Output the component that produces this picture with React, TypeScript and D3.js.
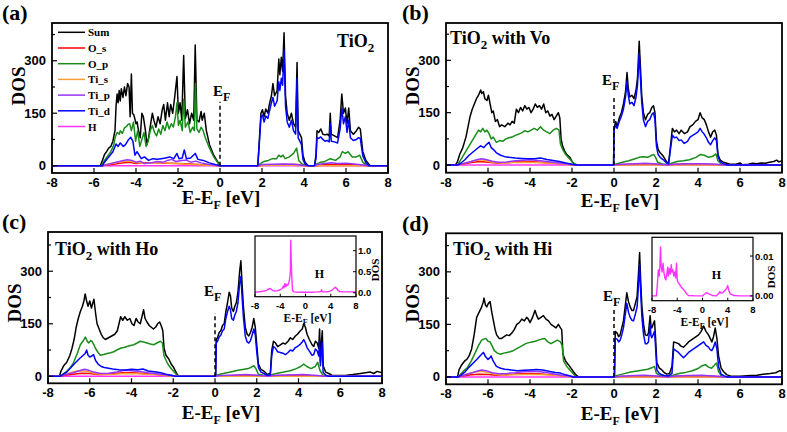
import React from "react";
import * as d3 from "d3";

type Pt = [number, number];

const xTicks = [-8, -6, -4, -2, 0, 2, 4, 6, 8];
const yTicks = [0, 150, 300];
const yMinorTicks = [75, 225, 375];
const insetXTicks = [-8, -4, 0, 4, 8];
const insetCYTicks = [0, 0.5, 1.0];
const insetCYLabels = ["0.0", "0.5", "1.0"];
const insetDYTicks = [0, 0.01];
const insetDYLabels = ["0.00", "0.01"];
const seriesNames = ["Sum", "O_s", "O_p", "Ti_s", "Ti_p", "Ti_d", "H"];
const seriesColors = ["#000000", "#ff0000", "#1a8c1a", "#f7a035", "#9933ff", "#0000ff", "#ff33ff"];

// ---------- Panel (a): TiO2 ----------
const aSum: Pt[] = [[-8,0],[-5.7,0],[-5.6,15],[-5.5,32],[-5.4,40],[-5.3,50],[-5.2,55],[-5.1,70],[-5.0,100],[-4.95,170],[-4.9,205],[-4.85,180],[-4.8,215],[-4.75,185],[-4.7,220],[-4.62,195],[-4.55,225],[-4.48,200],[-4.4,235],[-4.33,225],[-4.28,140],[-4.22,262],[-4.17,150],[-4.1,145],[-4.0,120],[-3.95,125],[-3.88,100],[-3.8,80],[-3.72,150],[-3.65,140],[-3.55,100],[-3.48,60],[-3.4,80],[-3.3,120],[-3.22,150],[-3.15,130],[-3.05,110],[-2.95,140],[-2.85,120],[-2.75,160],[-2.68,175],[-2.6,130],[-2.5,180],[-2.42,140],[-2.35,175],[-2.25,150],[-2.15,200],[-2.05,255],[-1.98,150],[-1.9,180],[-1.82,130],[-1.73,315],[-1.65,135],[-1.55,160],[-1.45,120],[-1.35,150],[-1.25,130],[-1.18,345],[-1.1,130],[-1.0,125],[-0.9,155],[-0.85,130],[-0.75,150],[-0.65,100],[-0.5,60],[-0.3,30],[-0.1,10],[0,0],[1.8,0],[1.88,80],[1.95,150],[2.02,160],[2.1,140],[2.18,162],[2.28,150],[2.35,175],[2.45,200],[2.52,235],[2.6,200],[2.72,215],[2.8,305],[2.85,260],[2.92,310],[2.98,270],[3.05,380],[3.12,200],[3.2,150],[3.3,130],[3.4,150],[3.5,120],[3.6,110],[3.67,295],[3.72,100],[3.8,90],[3.88,80],[3.95,30],[4.05,10],[4.2,0],[4.5,0],[4.57,30],[4.62,100],[4.7,95],[4.8,105],[4.9,90],[5.0,88],[5.1,90],[5.2,85],[5.25,150],[5.3,90],[5.45,85],[5.6,80],[5.72,130],[5.8,205],[5.88,150],[5.97,165],[6.05,120],[6.13,165],[6.21,100],[6.35,90],[6.5,100],[6.6,110],[6.68,105],[6.8,40],[6.95,15],[7.15,0],[8,0]];
const aOs: Pt[] = [[-8,0],[-5.6,0],[-5.4,2],[-5,5],[-4.6,8],[-4.3,10],[-4,6],[-3.5,8],[-3,8],[-2.5,7],[-2,6],[-1.5,5],[-1,3],[-0.3,1],[0,0],[1.8,0],[2.2,2],[3,3],[3.7,3],[4.1,0],[4.6,0],[5,3],[6,3],[6.8,1],[7.1,0],[8,0]];
const aOp: Pt[] = [[-8,0],[-5.65,0],[-5.5,15],[-5.35,28],[-5.2,40],[-5.05,60],[-5.0,80],[-4.9,95],[-4.8,90],[-4.75,100],[-4.65,92],[-4.55,108],[-4.45,112],[-4.38,118],[-4.3,120],[-4.22,100],[-4.12,125],[-4.02,70],[-3.92,100],[-3.82,55],[-3.72,75],[-3.62,95],[-3.52,55],[-3.42,70],[-3.32,100],[-3.22,115],[-3.12,95],[-3.02,85],[-2.92,105],[-2.82,90],[-2.72,115],[-2.62,100],[-2.52,125],[-2.42,105],[-2.32,120],[-2.22,110],[-2.12,140],[-2.05,180],[-1.98,115],[-1.9,130],[-1.8,100],[-1.73,190],[-1.65,110],[-1.52,125],[-1.42,95],[-1.3,110],[-1.22,100],[-1.17,235],[-1.1,105],[-1.0,95],[-0.9,110],[-0.8,100],[-0.7,80],[-0.5,50],[-0.3,25],[-0.1,8],[0,0],[1.8,0],[1.9,5],[2.1,12],[2.3,15],[2.5,20],[2.7,20],[2.8,30],[2.9,25],[3.0,30],[3.1,20],[3.3,25],[3.5,35],[3.65,50],[3.75,15],[3.9,5],[4.2,0],[4.5,0],[4.6,5],[4.8,10],[5.0,12],[5.25,20],[5.5,15],[5.72,25],[5.82,40],[5.97,35],[6.1,40],[6.3,25],[6.5,25],[6.65,30],[6.8,10],[7.0,0],[8,0]];
const aTis: Pt[] = [[-8,0],[-5.6,0],[-5.4,3],[-5,8],[-4.7,11],[-4.4,13],[-4.2,12],[-4,9],[-3.6,6],[-3.2,8],[-2.8,9],[-2.4,7],[-2,6],[-1.6,4],[-1.2,3],[-0.6,1],[0,0],[1.8,0],[2.5,1],[3.5,1],[4.1,0],[8,0]];
const aTip: Pt[] = [[-8,0],[-5.6,0],[-5.4,3],[-5.1,8],[-4.8,12],[-4.6,15],[-4.4,17],[-4.2,15],[-4,10],[-3.8,13],[-3.6,6],[-3.3,8],[-3,12],[-2.7,10],[-2.5,15],[-2.3,18],[-2.1,12],[-1.9,14],[-1.6,16],[-1.4,10],[-1.15,13],[-0.9,8],[-0.5,3],[0,0],[1.8,0],[2,3],[2.5,4],[3,5],[3.5,4],[3.8,2],[4.1,0],[4.5,0],[4.7,4],[5.0,6],[5.3,8],[5.6,6],[6.0,7],[6.4,5],[6.8,2],[7.1,0],[8,0]];
const aTid: Pt[] = [[-8,0],[-5.6,0],[-5.5,10],[-5.3,25],[-5.1,40],[-4.95,62],[-4.85,55],[-4.75,65],[-4.6,55],[-4.5,60],[-4.35,75],[-4.25,81],[-4.15,70],[-4.05,30],[-3.95,40],[-3.85,30],[-3.75,20],[-3.6,25],[-3.4,15],[-3.2,20],[-3.0,18],[-2.8,20],[-2.6,22],[-2.4,25],[-2.2,20],[-2.05,35],[-1.95,20],[-1.8,22],[-1.7,45],[-1.6,20],[-1.4,22],[-1.18,35],[-1.05,18],[-0.8,15],[-0.5,8],[-0.2,3],[0,0],[1.8,0],[1.88,70],[1.95,138],[2.02,145],[2.1,125],[2.18,142],[2.28,135],[2.35,155],[2.45,180],[2.52,195],[2.6,170],[2.72,185],[2.8,240],[2.85,215],[2.92,250],[2.98,230],[3.05,330],[3.12,170],[3.2,125],[3.3,110],[3.4,130],[3.5,100],[3.6,90],[3.67,250],[3.72,80],[3.8,70],[3.88,60],[3.95,18],[4.05,5],[4.2,0],[4.5,0],[4.57,20],[4.62,80],[4.7,78],[4.8,82],[4.9,75],[5.0,70],[5.1,72],[5.2,68],[5.25,120],[5.3,70],[5.45,68],[5.6,65],[5.72,105],[5.8,165],[5.88,120],[5.97,140],[6.05,95],[6.13,130],[6.21,80],[6.35,72],[6.5,75],[6.6,80],[6.68,78],[6.8,28],[6.95,8],[7.1,0],[8,0]];
const aH: Pt[] = [[-8,0],[8,0]];

// ---------- Panel (b): TiO2 with Vo ----------
const bSum: Pt[] = [[-8,0],[-7.55,0],[-7.45,10],[-7.35,30],[-7.2,50],[-7.05,80],[-6.95,110],[-6.85,140],[-6.75,160],[-6.65,175],[-6.55,190],[-6.45,200],[-6.35,215],[-6.3,205],[-6.22,210],[-6.15,190],[-6.05,185],[-5.98,200],[-5.9,175],[-5.82,150],[-5.75,155],[-5.65,125],[-5.55,130],[-5.45,110],[-5.35,115],[-5.2,110],[-5.05,120],[-4.95,115],[-4.85,125],[-4.75,120],[-4.65,160],[-4.55,150],[-4.45,165],[-4.35,155],[-4.25,170],[-4.15,160],[-4.05,165],[-3.95,150],[-3.85,160],[-3.75,175],[-3.65,165],[-3.55,170],[-3.45,160],[-3.35,175],[-3.25,150],[-3.15,155],[-3.05,140],[-2.95,145],[-2.85,130],[-2.75,140],[-2.65,150],[-2.58,135],[-2.52,75],[-2.45,55],[-2.35,40],[-2.25,30],[-2.1,22],[-2.0,10],[-1.9,3],[-1.8,0],[-0.02,0],[0.0,105],[0.08,125],[0.15,110],[0.25,135],[0.35,150],[0.45,175],[0.55,210],[0.62,265],[0.68,220],[0.75,195],[0.85,200],[0.95,190],[1.05,215],[1.12,250],[1.2,355],[1.26,280],[1.32,200],[1.4,150],[1.5,130],[1.6,145],[1.7,150],[1.8,165],[1.88,170],[1.95,150],[2.02,70],[2.1,45],[2.2,35],[2.35,25],[2.5,10],[2.6,5],[2.7,60],[2.78,105],[2.88,95],[2.98,100],[3.1,90],[3.2,100],[3.35,90],[3.5,95],[3.62,110],[3.75,115],[3.88,125],[4.0,130],[4.1,150],[4.2,135],[4.3,130],[4.4,115],[4.5,95],[4.6,80],[4.7,95],[4.8,100],[4.88,85],[4.95,30],[5.05,15],[5.2,8],[5.5,3],[5.8,2],[6.0,6],[6.1,1],[6.4,2],[6.6,5],[6.8,4],[7.0,6],[7.2,5],[7.4,8],[7.6,10],[7.75,14],[7.85,9],[8,12]];
const bOs: Pt[] = [[-8,0],[-7.5,0],[-7.2,3],[-6.8,7],[-6.4,10],[-6,8],[-5.5,5],[-5,7],[-4.5,10],[-4,10],[-3.5,8],[-3,6],[-2.5,4],[-2,1],[-1.8,0],[0,0],[0.3,1],[1,2],[2,2],[2.6,0],[3,2],[4,3],[5,1],[5.3,0],[8,0]];
const bOp: Pt[] = [[-8,0],[-7.45,0],[-7.3,15],[-7.15,30],[-7.0,45],[-6.85,60],[-6.7,75],[-6.55,90],[-6.45,100],[-6.35,95],[-6.25,105],[-6.15,95],[-6.05,100],[-5.95,90],[-5.85,75],[-5.75,80],[-5.6,65],[-5.45,70],[-5.3,68],[-5.15,75],[-5.0,78],[-4.85,80],[-4.7,85],[-4.55,88],[-4.4,92],[-4.25,98],[-4.1,95],[-3.95,100],[-3.8,105],[-3.65,100],[-3.5,110],[-3.35,100],[-3.2,95],[-3.05,90],[-2.9,100],[-2.75,105],[-2.62,100],[-2.55,60],[-2.45,45],[-2.3,30],[-2.15,20],[-2.0,10],[-1.85,3],[-1.75,0],[0,0],[0.1,3],[0.4,8],[0.7,12],[1.0,18],[1.2,22],[1.4,24],[1.6,22],[1.8,28],[1.9,30],[1.98,22],[2.08,8],[2.3,3],[2.6,2],[2.75,5],[3.0,10],[3.3,12],[3.6,15],[3.9,22],[4.1,30],[4.3,28],[4.5,22],[4.7,25],[4.85,32],[4.95,12],[5.1,3],[5.3,0],[8,0]];
const bTis: Pt[] = [[-8,0],[-7.5,0],[-7.2,4],[-6.8,10],[-6.5,14],[-6.3,15],[-6.0,11],[-5.7,7],[-5.3,5],[-4.8,7],[-4.3,8],[-3.8,7],[-3.3,6],[-2.8,5],[-2.4,3],[-2,0],[8,0]];
const bTip: Pt[] = [[-8,0],[-7.5,0],[-7.2,4],[-6.8,10],[-6.5,16],[-6.3,18],[-6.1,16],[-5.8,11],[-5.5,8],[-5.1,9],[-4.7,12],[-4.3,14],[-4.0,15],[-3.6,13],[-3.2,10],[-2.8,7],[-2.5,5],[-2.1,2],[-1.9,0],[0,0],[0.3,2],[1,4],[1.5,5],[2,3],[2.6,0],[2.8,2],[3.5,4],[4.2,4],[4.9,2],[5.2,0],[8,0]];
const bTid: Pt[] = [[-8,0],[-7.45,0],[-7.3,5],[-7.1,15],[-6.9,28],[-6.7,38],[-6.5,48],[-6.35,55],[-6.2,50],[-6.05,60],[-5.95,65],[-5.85,50],[-5.75,45],[-5.6,35],[-5.4,28],[-5.2,24],[-5.0,22],[-4.7,20],[-4.4,19],[-4.1,18],[-3.8,18],[-3.5,20],[-3.2,16],[-2.9,13],[-2.6,10],[-2.3,6],[-2.0,2],[-1.8,0],[-0.02,0],[0,100],[0.08,115],[0.15,105],[0.25,125],[0.35,140],[0.45,160],[0.55,195],[0.62,240],[0.68,200],[0.75,175],[0.85,180],[0.95,170],[1.05,195],[1.12,230],[1.2,320],[1.26,250],[1.32,180],[1.4,130],[1.5,110],[1.6,125],[1.7,130],[1.8,145],[1.88,150],[1.95,130],[2.02,55],[2.1,30],[2.2,22],[2.35,15],[2.5,6],[2.6,3],[2.7,50],[2.78,85],[2.88,78],[2.98,80],[3.1,70],[3.2,72],[3.35,62],[3.5,68],[3.62,80],[3.75,85],[3.88,90],[4.0,95],[4.1,105],[4.2,95],[4.3,88],[4.4,78],[4.5,65],[4.6,58],[4.7,70],[4.8,78],[4.88,70],[4.95,25],[5.05,10],[5.2,4],[5.4,0],[8,0]];
const bH: Pt[] = [[-8,0],[8,0]];

// ---------- Panel (c): TiO2 with Ho ----------
const cSum: Pt[] = [[-8,0],[-7.45,0],[-7.38,15],[-7.25,30],[-7.1,40],[-6.95,60],[-6.85,80],[-6.75,105],[-6.65,140],[-6.55,165],[-6.45,185],[-6.35,200],[-6.28,215],[-6.22,235],[-6.15,215],[-6.08,200],[-6.0,215],[-5.92,195],[-5.85,210],[-5.8,220],[-5.72,180],[-5.65,150],[-5.55,135],[-5.45,120],[-5.35,110],[-5.25,105],[-5.1,110],[-4.95,115],[-4.8,120],[-4.68,130],[-4.6,150],[-4.52,170],[-4.42,160],[-4.32,170],[-4.2,160],[-4.08,165],[-3.98,150],[-3.88,145],[-3.78,165],[-3.68,155],[-3.58,150],[-3.5,170],[-3.42,190],[-3.35,165],[-3.26,155],[-3.15,145],[-3.05,140],[-2.95,135],[-2.85,140],[-2.75,150],[-2.65,155],[-2.58,145],[-2.5,130],[-2.44,80],[-2.35,60],[-2.22,50],[-2.1,35],[-1.98,25],[-1.85,10],[-1.74,0],[0.03,0],[0.06,105],[0.12,110],[0.2,125],[0.28,130],[0.36,145],[0.44,150],[0.52,185],[0.6,210],[0.68,240],[0.74,230],[0.8,195],[0.88,185],[0.95,200],[1.02,210],[1.1,240],[1.18,300],[1.24,330],[1.3,260],[1.36,200],[1.45,140],[1.54,120],[1.62,115],[1.7,125],[1.78,140],[1.86,165],[1.93,140],[2.0,90],[2.08,35],[2.2,20],[2.34,15],[2.5,5],[2.65,8],[2.72,75],[2.8,100],[2.9,95],[3.0,85],[3.13,90],[3.25,95],[3.37,92],[3.5,100],[3.61,110],[3.72,105],[3.85,115],[3.95,120],[4.09,130],[4.18,135],[4.25,150],[4.33,140],[4.41,120],[4.52,105],[4.65,90],[4.73,85],[4.81,100],[4.9,95],[4.97,80],[5.01,135],[5.05,40],[5.1,100],[5.14,130],[5.18,30],[5.3,12],[5.45,8],[5.6,3],[6.0,2],[6.3,3],[6.6,5],[6.97,8],[7.2,10],[7.45,12],[7.6,8],[7.77,14],[8,10]];
const cOs: Pt[] = [[-8,0],[-7.45,0],[-7.2,3],[-6.8,6],[-6.4,9],[-6.0,8],[-5.6,5],[-5.2,6],[-4.8,8],[-4.4,10],[-4.0,10],[-3.6,9],[-3.2,7],[-2.8,5],[-2.4,3],[-2.0,1],[-1.8,0],[0,0],[0.3,1],[1,2],[1.9,2],[2.6,0],[3,2],[4,3],[5,1],[5.3,0],[8,0]];
const cOp: Pt[] = [[-8,0],[-7.42,0],[-7.25,8],[-7.09,15],[-6.93,25],[-6.77,40],[-6.6,65],[-6.45,90],[-6.33,100],[-6.21,112],[-6.12,100],[-6.05,95],[-5.95,102],[-5.89,100],[-5.8,90],[-5.73,80],[-5.6,68],[-5.49,60],[-5.33,62],[-5.17,65],[-5.0,67],[-4.85,70],[-4.7,75],[-4.53,80],[-4.37,82],[-4.21,85],[-4.05,88],[-3.89,90],[-3.73,95],[-3.58,100],[-3.42,98],[-3.26,95],[-3.1,92],[-2.94,90],[-2.78,95],[-2.62,100],[-2.52,95],[-2.45,60],[-2.38,50],[-2.26,35],[-2.14,25],[-2.0,15],[-1.86,6],[-1.74,0],[0.03,0],[0.06,3],[0.4,8],[0.8,13],[1.1,17],[1.4,20],[1.6,22],[1.86,30],[1.96,22],[2.08,6],[2.3,3],[2.6,2],[2.75,5],[3.0,9],[3.3,12],[3.6,16],[3.9,22],[4.1,28],[4.25,35],[4.4,28],[4.6,22],[4.8,28],[4.92,40],[5.02,18],[5.15,5],[5.3,0],[8,0]];
const cTis: Pt[] = [[-8,0],[-7.45,0],[-7.2,5],[-6.9,11],[-6.6,15],[-6.3,16],[-6.0,12],[-5.7,7],[-5.3,5],[-4.8,6],[-4.3,8],[-3.8,7],[-3.3,6],[-2.8,5],[-2.4,3],[-2,0],[8,0]];
const cTip: Pt[] = [[-8,0],[-7.45,0],[-7.2,4],[-6.8,10],[-6.5,16],[-6.25,20],[-6.05,17],[-5.8,12],[-5.5,8],[-5.1,9],[-4.7,12],[-4.35,17],[-4.0,16],[-3.6,14],[-3.2,10],[-2.8,7],[-2.5,5],[-2.1,2],[-1.9,0],[0,0],[0.3,2],[1,4],[1.5,5],[2,3],[2.6,0],[2.8,2],[3.5,4],[4.2,5],[4.9,2],[5.2,0],[8,0]];
const cTid: Pt[] = [[-8,0],[-7.42,0],[-7.3,5],[-7.1,12],[-6.9,25],[-6.7,38],[-6.5,50],[-6.35,58],[-6.22,65],[-6.15,75],[-6.08,60],[-6.0,55],[-5.9,58],[-5.82,62],[-5.72,45],[-5.6,35],[-5.45,28],[-5.3,25],[-5.1,23],[-4.9,21],[-4.6,19],[-4.3,18],[-4.0,20],[-3.7,19],[-3.45,21],[-3.2,15],[-2.9,13],[-2.6,10],[-2.35,6],[-2.1,3],[-1.9,0],[0.03,0],[0.06,95],[0.12,100],[0.2,112],[0.28,118],[0.36,130],[0.44,135],[0.52,165],[0.6,185],[0.68,200],[0.74,190],[0.8,165],[0.88,160],[0.95,175],[1.02,185],[1.1,210],[1.18,265],[1.24,285],[1.3,225],[1.36,170],[1.45,115],[1.54,98],[1.62,95],[1.7,102],[1.78,118],[1.86,135],[1.93,118],[2.0,70],[2.08,25],[2.2,12],[2.34,8],[2.5,3],[2.65,4],[2.72,60],[2.8,85],[2.9,80],[3.0,70],[3.13,68],[3.25,66],[3.37,62],[3.5,68],[3.61,75],[3.72,72],[3.85,82],[3.95,85],[4.09,92],[4.18,98],[4.25,105],[4.33,95],[4.41,82],[4.52,72],[4.65,60],[4.73,62],[4.81,78],[4.9,72],[4.97,58],[5.01,100],[5.05,30],[5.1,75],[5.14,95],[5.18,12],[5.3,3],[5.45,0],[8,0]];
const cH: Pt[] = [[-8,0.01],[-7.5,0.02],[-7,0.03],[-6.5,0.04],[-6.1,0.06],[-5.8,0.09],[-5.6,0.1],[-5.4,0.08],[-5.2,0.05],[-4.8,0.04],[-4.4,0.05],[-4.0,0.07],[-3.7,0.1],[-3.5,0.16],[-3.4,0.12],[-3.25,0.22],[-3.1,0.14],[-2.95,0.2],[-2.8,0.18],[-2.6,0.26],[-2.5,0.35],[-2.4,0.5],[-2.33,1.25],[-2.25,0.7],[-2.15,0.3],[-2.05,0.05],[-1.8,0.02],[-1,0.01],[0,0.01],[1,0.01],[2,0.02],[2.45,0.03],[2.55,0.07],[2.65,0.02],[3.2,0.02],[3.8,0.03],[4.2,0.06],[4.5,0.1],[4.7,0.13],[4.9,0.11],[5.1,0.06],[5.4,0.03],[6,0.02],[7,0.02],[8,0.02]];

// ---------- Panel (d): TiO2 with Hi ----------
const dSum: Pt[] = [[-8,0],[-7.45,0],[-7.38,20],[-7.25,35],[-7.12,45],[-7.01,50],[-6.9,60],[-6.78,80],[-6.66,120],[-6.54,170],[-6.42,185],[-6.3,200],[-6.22,215],[-6.19,225],[-6.12,205],[-6.06,200],[-5.98,210],[-5.9,215],[-5.82,185],[-5.74,160],[-5.66,135],[-5.59,120],[-5.47,110],[-5.35,110],[-5.23,115],[-5.11,120],[-4.99,118],[-4.87,125],[-4.75,135],[-4.63,150],[-4.51,155],[-4.39,165],[-4.27,160],[-4.16,170],[-4.08,165],[-4.0,155],[-3.88,170],[-3.76,190],[-3.68,175],[-3.6,165],[-3.48,170],[-3.36,175],[-3.24,165],[-3.12,160],[-3.0,150],[-2.88,145],[-2.76,140],[-2.65,150],[-2.55,140],[-2.49,135],[-2.43,65],[-2.3,45],[-2.17,35],[-2.05,25],[-1.93,15],[-1.8,5],[-1.69,0],[0.02,0],[0.06,130],[0.15,125],[0.22,115],[0.29,120],[0.37,140],[0.45,160],[0.53,200],[0.61,240],[0.69,215],[0.77,200],[0.85,190],[0.93,190],[1.02,210],[1.1,230],[1.16,290],[1.22,355],[1.28,260],[1.33,200],[1.41,150],[1.49,120],[1.57,118],[1.64,125],[1.68,150],[1.72,175],[1.76,145],[1.8,140],[1.86,150],[1.93,160],[1.98,110],[2.04,40],[2.16,25],[2.28,20],[2.4,12],[2.52,8],[2.64,10],[2.76,30],[2.84,100],[2.95,98],[3.07,95],[3.19,88],[3.31,85],[3.43,92],[3.55,100],[3.67,105],[3.79,110],[3.91,115],[4.03,120],[4.15,130],[4.27,145],[4.38,130],[4.5,120],[4.58,110],[4.66,100],[4.74,115],[4.82,140],[4.9,110],[4.98,60],[5.1,25],[5.22,15],[5.38,6],[5.54,3],[6.0,2],[6.17,3],[6.5,4],[6.81,5],[7.1,8],[7.44,10],[7.7,12],[7.9,18],[8,15]];
const dOs: Pt[] = [[-8,0],[-7.45,0],[-7.2,3],[-6.8,6],[-6.4,8],[-6.0,7],[-5.6,5],[-5.2,6],[-4.8,8],[-4.4,9],[-4.0,10],[-3.6,9],[-3.2,7],[-2.8,6],[-2.4,3],[-2.0,1],[-1.8,0],[0,0],[0.3,1],[1,2],[1.9,2],[2.6,0],[3,2],[4,3],[5,1],[5.3,0],[8,0]];
const dOp: Pt[] = [[-8,0],[-7.42,0],[-7.3,8],[-7.15,18],[-7.0,25],[-6.8,45],[-6.6,70],[-6.45,90],[-6.3,105],[-6.2,108],[-6.1,110],[-6.0,102],[-5.9,100],[-5.8,88],[-5.7,75],[-5.55,68],[-5.4,65],[-5.25,68],[-5.1,70],[-4.95,72],[-4.8,75],[-4.65,80],[-4.5,85],[-4.35,90],[-4.2,95],[-4.05,98],[-3.9,100],[-3.75,102],[-3.6,105],[-3.45,108],[-3.3,110],[-3.15,100],[-3.0,95],[-2.85,100],[-2.7,105],[-2.55,100],[-2.47,90],[-2.4,45],[-2.25,30],[-2.1,20],[-1.95,10],[-1.8,0],[0.02,0],[0.06,3],[0.4,8],[0.8,14],[1.1,17],[1.4,20],[1.6,22],[1.8,26],[1.93,30],[2.02,10],[2.2,4],[2.5,3],[2.8,5],[3.1,10],[3.4,13],[3.7,17],[4.0,24],[4.2,32],[4.35,35],[4.5,28],[4.65,25],[4.8,35],[4.88,40],[4.98,15],[5.1,4],[5.25,0],[8,0]];
const dTis: Pt[] = [[-8,0],[-7.45,0],[-7.2,5],[-6.9,10],[-6.6,14],[-6.3,16],[-6.0,13],[-5.7,8],[-5.3,5],[-4.8,6],[-4.3,7],[-3.8,7],[-3.3,6],[-2.8,5],[-2.4,3],[-2,0],[8,0]];
const dTip: Pt[] = [[-8,0],[-7.45,0],[-7.2,4],[-6.8,11],[-6.5,17],[-6.3,20],[-6.1,18],[-5.8,12],[-5.5,9],[-5.1,10],[-4.7,12],[-4.3,15],[-3.9,16],[-3.5,15],[-3.1,11],[-2.8,8],[-2.5,5],[-2.1,2],[-1.9,0],[0,0],[0.3,2],[1,4],[1.5,5],[2,3],[2.6,0],[2.8,2],[3.5,4],[4.2,5],[4.9,2],[5.2,0],[8,0]];
const dTid: Pt[] = [[-8,0],[-7.42,0],[-7.3,5],[-7.1,14],[-6.9,28],[-6.7,40],[-6.5,52],[-6.35,62],[-6.22,70],[-6.12,58],[-6.0,50],[-5.9,55],[-5.85,60],[-5.75,45],[-5.6,30],[-5.4,25],[-5.2,22],[-4.9,20],[-4.6,18],[-4.3,19],[-4.0,20],[-3.7,21],[-3.4,20],[-3.1,16],[-2.8,13],[-2.55,11],[-2.3,6],[-2.1,3],[-1.95,0],[0.02,0],[0.06,110],[0.15,108],[0.22,100],[0.29,105],[0.37,120],[0.45,140],[0.53,175],[0.61,210],[0.69,185],[0.77,170],[0.85,162],[0.93,160],[1.02,180],[1.1,200],[1.16,255],[1.22,320],[1.28,230],[1.33,170],[1.41,120],[1.49,95],[1.57,95],[1.64,100],[1.68,125],[1.72,150],[1.76,118],[1.8,112],[1.86,120],[1.93,130],[1.98,85],[2.04,20],[2.16,10],[2.28,6],[2.4,4],[2.6,3],[2.76,10],[2.84,80],[2.95,75],[3.07,70],[3.19,62],[3.31,55],[3.43,62],[3.55,70],[3.67,75],[3.79,80],[3.91,85],[4.03,90],[4.15,95],[4.27,100],[4.38,90],[4.5,85],[4.58,78],[4.66,75],[4.74,85],[4.82,100],[4.9,80],[4.98,30],[5.1,8],[5.25,3],[5.4,0],[8,0]];
const dH: Pt[] = [[-8,0],[-7.3,0],[-7.1,0.004],[-7.0,0.0065],[-6.85,0.005],[-6.75,0.0075],[-6.65,0.0123],[-6.55,0.0075],[-6.4,0.006],[-6.25,0.0082],[-6.1,0.0058],[-5.95,0.0045],[-5.8,0.004],[-5.65,0.0055],[-5.5,0.0072],[-5.4,0.005],[-5.25,0.0068],[-5.1,0.0055],[-4.95,0.0078],[-4.85,0.006],[-4.7,0.0066],[-4.55,0.005],[-4.4,0.006],[-4.25,0.0045],[-4.12,0.0082],[-4.0,0.004],[-3.8,0.0032],[-3.6,0.0028],[-3.35,0.0022],[-3.1,0.0018],[-2.8,0.0012],[-2.5,0.0005],[-2.2,0.0001],[-1,0],[0,0],[0.3,0.0004],[0.6,0.0008],[0.9,0.0006],[1.2,0.0004],[1.6,0.0001],[2.2,0],[2.55,0.0006],[2.75,0.0011],[2.9,0.0007],[3.2,0.0008],[3.5,0.0013],[3.8,0.0018],[4.0,0.0026],[4.15,0.0015],[4.4,0.0005],[5,0.0001],[6,0],[8,0]];

const SERIF = "'Liberation Serif', 'Times New Roman', serif";
const SANS = "'Liberation Sans', Arial, sans-serif";

// drawing order: H, Sum, O_s, O_p, Ti_s, Ti_p, Ti_d
const drawOrder = [6, 0, 1, 2, 3, 4, 5];

type PanelProps = {
  id: string;
  left: number; right: number; top: number; bottom: number;
  yMin: number; yMax: number;
  data: Pt[][];
  efTop: number;
};

function Panel(p: PanelProps) {
  const x = d3.scaleLinear().domain([-8, 8]).range([p.left, p.right]);
  const y = d3.scaleLinear().domain([p.yMin, p.yMax]).range([p.bottom, p.top]);
  const line = d3.line<Pt>().x(d => x(d[0])).y(d => y(d[1]));
  return (
    <g>
      <defs>
        <clipPath id={`clip-${p.id}`}>
          <rect x={p.left} y={p.top} width={p.right - p.left} height={p.bottom - p.top} />
        </clipPath>
      </defs>
      <g clipPath={`url(#clip-${p.id})`}>
        {drawOrder.map(i => (
          <path key={i} d={line(p.data[i]) || ""} fill="none" stroke={seriesColors[i]} strokeWidth={1.5} strokeLinejoin="round" />
        ))}
        <line x1={x(0)} x2={x(0)} y1={y(0)} y2={y(p.efTop)} stroke="#000" strokeWidth={1.5} strokeDasharray="4,3" />
      </g>
      {xTicks.map(t => (
        <g key={`xt${t}`}>
          <line x1={x(t)} x2={x(t)} y1={p.bottom} y2={p.bottom - 5} stroke="#000" strokeWidth={1.2} />
          <text x={x(t)} y={p.bottom + 14} textAnchor="middle" fontFamily={SANS} fontWeight="bold" fontSize={13}>{t}</text>
        </g>
      ))}
      {yTicks.map(t => (
        <g key={`yt${t}`}>
          <line x1={p.left} x2={p.left + 5} y1={y(t)} y2={y(t)} stroke="#000" strokeWidth={1.2} />
          <text x={p.left - 6} y={y(t) + 4.5} textAnchor="end" fontFamily={SANS} fontWeight="bold" fontSize={13}>{t}</text>
        </g>
      ))}
      {yMinorTicks.map(t => (
        <line key={`ym${t}`} x1={p.left} x2={p.left + 3} y1={y(t)} y2={y(t)} stroke="#000" strokeWidth={1.2} />
      ))}
      <rect x={p.left} y={p.top} width={p.right - p.left} height={p.bottom - p.top} fill="none" stroke="#000" strokeWidth={1.8} />
    </g>
  );
}

type InsetProps = {
  left: number; right: number; top: number; bottom: number;
  yMin: number; yMax: number;
  data: Pt[];
  yt: number[]; ytl: string[];
};

function Inset(p: InsetProps) {
  const x = d3.scaleLinear().domain([-8, 8]).range([p.left, p.right]);
  const y = d3.scaleLinear().domain([p.yMin, p.yMax]).range([p.bottom, p.top]);
  const line = d3.line<Pt>().x(d => x(d[0])).y(d => y(d[1]));
  const cx = (p.left + p.right) / 2;
  return (
    <g>
      <rect x={p.left} y={p.top} width={p.right - p.left} height={p.bottom - p.top} fill="#fff" />
      <path d={line(p.data) || ""} fill="none" stroke={seriesColors[6]} strokeWidth={1.4} strokeLinejoin="round" />
      {insetXTicks.map(t => (
        <g key={`ixt${t}`}>
          <line x1={x(t)} x2={x(t)} y1={p.bottom} y2={p.bottom - 3} stroke="#000" strokeWidth={1} />
          <text x={x(t)} y={p.bottom + 12} textAnchor="middle" fontFamily={SANS} fontWeight="bold" fontSize={9.5}>{t}</text>
        </g>
      ))}
      {p.yt.map((t, i) => (
        <g key={`iyt${t}`}>
          <line x1={p.right} x2={p.right - 3} y1={y(t)} y2={y(t)} stroke="#000" strokeWidth={1} />
          <text x={p.right + 2} y={y(t) + 3.5} textAnchor="start" fontFamily={SANS} fontWeight="bold" fontSize={9.5}>{p.ytl[i]}</text>
        </g>
      ))}
      <rect x={p.left} y={p.top} width={p.right - p.left} height={p.bottom - p.top} fill="none" stroke="#000" strokeWidth={1.2} />
      <text x={cx + 14} y={p.top + 42} textAnchor="middle" fontFamily={SERIF} fontWeight="bold" fontSize={12}>H</text>
      <text x={cx + 2} y={p.bottom + 25} textAnchor="middle" fontFamily={SERIF} fontWeight="bold" fontSize={11.5}>
        E-E<tspan fontSize={8} dy={3}>F</tspan><tspan dy={-3}> [eV]</tspan>
      </text>
    </g>
  );
}

function Title(props: { x: number; y: number; suffix: string }) {
  return (
    <text x={props.x} y={props.y} fontFamily={SERIF} fontWeight="bold" fontSize={18}>
      TiO<tspan fontSize={13} dy={5}>2</tspan><tspan dy={-5}>{props.suffix}</tspan>
    </text>
  );
}

function EF(props: { x: number; y: number }) {
  return (
    <text x={props.x} y={props.y} fontFamily={SERIF} fontWeight="bold" fontSize={15}>
      E<tspan fontSize={12} dy={5}>F</tspan>
    </text>
  );
}

function XLabel(props: { x: number; y: number }) {
  return (
    <text x={props.x} y={props.y} textAnchor="middle" fontFamily={SERIF} fontWeight="bold" fontSize={19}>
      E-E<tspan fontSize={12} dy={5}>F</tspan><tspan dy={-5}> [eV]</tspan>
    </text>
  );
}

function YLabel(props: { x: number; y: number }) {
  return (
    <text transform={`translate(${props.x},${props.y}) rotate(-90)`} textAnchor="middle" dominantBaseline="central" fontFamily={SERIF} fontWeight="bold" fontSize={19}>DOS</text>
  );
}

function PLabel(props: { x: number; y: number; t: string }) {
  return <text x={props.x} y={props.y} fontFamily={SERIF} fontWeight="bold" fontSize={22}>{props.t}</text>;
}

export default function App() {
  const aData = [aSum, aOs, aOp, aTis, aTip, aTid, aH];
  const bData = [bSum, bOs, bOp, bTis, bTip, bTid, bH];
  const cData = [cSum, cOs, cOp, cTis, cTip, cTid, cH];
  const dData = [dSum, dOs, dOp, dTis, dTip, dTid, dH];
  return (
    <svg width={787} height={432} style={{ position: "absolute", left: 0, top: 0, background: "#fff" }}>
      <rect x={0} y={0} width={787} height={432} fill="#fff" />
      {/* (a) */}
      <Panel id="a" left={52} right={388} top={23} bottom={173} yMin={-21} yMax={408} data={aData} efTop={183} />
      <PLabel x={2} y={20} t="(a)" />
      <YLabel x={18} y={86} />
      <XLabel x={221} y={204} />
      <Title x={337} y={47} suffix="" />
      <EF x={213} y={96} />
      {seriesNames.map((n, i) => (
        <g key={n}>
          <line x1={58} x2={85} y1={32.3 + i * 15.7} y2={32.3 + i * 15.7} stroke={seriesColors[i]} strokeWidth={1.5} />
          <text x={88} y={32.3 + i * 15.7 + 4} fontFamily={SERIF} fontWeight="bold" fontSize={11}>{n}</text>
        </g>
      ))}
      {/* (b) */}
      <Panel id="b" left={446} right={782} top={23} bottom={172.7} yMin={-22} yMax={407} data={bData} efTop={195} />
      <PLabel x={402} y={20} t="(b)" />
      <YLabel x={412} y={86} />
      <XLabel x={620} y={207} />
      <Title x={450} y={44} suffix=" with Vo" />
      <EF x={602} y={85} />
      {/* (c) */}
      <Panel id="c" left={48} right={382} top={232} bottom={383.3} yMin={-20} yMax={412} data={cData} efTop={181} />
      <PLabel x={2} y={229} t="(c)" />
      <YLabel x={14} y={303} />
      <XLabel x={221} y={419} />
      <Title x={55} y={255} suffix=" with Ho" />
      <EF x={204} y={296} />
      <Inset left={255} right={356} top={236} bottom={296.7} yMin={-0.095} yMax={1.35} data={cH} yt={insetCYTicks} ytl={insetCYLabels} />
      <text transform="translate(375,270) rotate(-90)" textAnchor="middle" dominantBaseline="central" fontFamily={SERIF} fontWeight="bold" fontSize={11}>DOS</text>
      {/* (d) */}
      <Panel id="d" left={446} right={782} top={233.3} bottom={384.3} yMin={-21} yMax={410} data={dData} efTop={197} />
      <PLabel x={402} y={231} t="(d)" />
      <YLabel x={412} y={303} />
      <XLabel x={620} y={420} />
      <Title x={453} y={255} suffix=" with Hi" />
      <EF x={603} y={301} />
      <Inset left={652} right={753} top={237.3} bottom={300.7} yMin={-0.0012} yMax={0.0147} data={dH} yt={insetDYTicks} ytl={insetDYLabels} />
      <text transform="translate(771,277) rotate(-90)" textAnchor="middle" dominantBaseline="central" fontFamily={SERIF} fontWeight="bold" fontSize={11}>DOS</text>
    </svg>
  );
}
